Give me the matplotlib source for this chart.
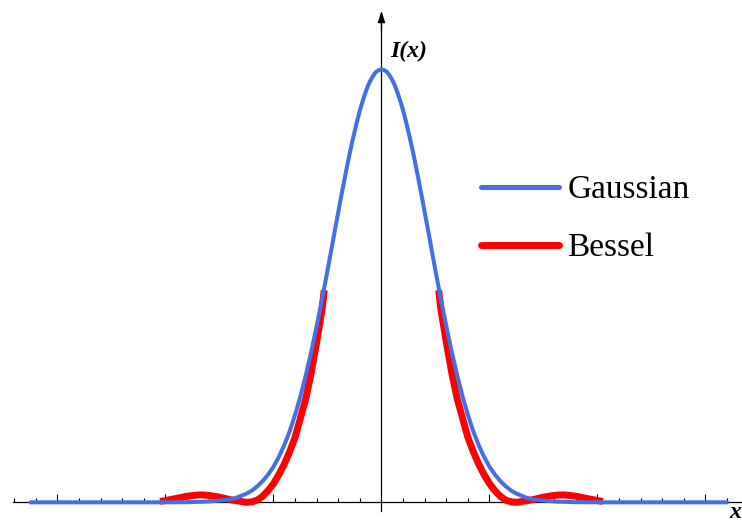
import matplotlib
matplotlib.use("Agg")
import matplotlib.pyplot as plt
from matplotlib.ticker import FixedLocator, NullFormatter
from matplotlib.lines import Line2D

# Gaussian intensity profile
gauss_x = [-3.25, -2.5, -2.0, -1.8, -1.7, -1.6, -1.5, -1.45, -1.4, -1.35, -1.3, -1.25, -1.2,
           -1.15, -1.1, -1.05, -1.0, -0.95, -0.9, -0.85, -0.8, -0.75, -0.7, -0.65, -0.6,
           -0.55, -0.5, -0.45, -0.425, -0.4, -0.375, -0.35, -0.325, -0.3, -0.275, -0.25,
           -0.225, -0.2, -0.175, -0.15, -0.125, -0.1, -0.075, -0.05, -0.025,
           0.0,
           0.025, 0.05, 0.075, 0.1, 0.125, 0.15, 0.175, 0.2, 0.225, 0.25, 0.275, 0.3,
           0.325, 0.35, 0.375, 0.4, 0.425, 0.45, 0.5, 0.55, 0.6, 0.65, 0.7, 0.75, 0.8,
           0.85, 0.9, 0.95, 1.0, 1.05, 1.1, 1.15, 1.2, 1.25, 1.3, 1.35, 1.4, 1.45, 1.5,
           1.6, 1.7, 1.8, 2.0, 2.5, 3.2]
gauss_y = [0.0, 0.0, 0.0, 0.0003, 0.001, 0.002, 0.004, 0.005, 0.007, 0.010, 0.015, 0.020, 0.027,
           0.037, 0.049, 0.064, 0.082, 0.105, 0.132, 0.164, 0.202, 0.245, 0.294, 0.348, 0.407,
           0.469, 0.535, 0.603, 0.637, 0.670, 0.704, 0.736, 0.768, 0.799, 0.828, 0.855,
           0.881, 0.905, 0.926, 0.945, 0.962, 0.975, 0.986, 0.994, 0.998,
           1.0,
           0.998, 0.994, 0.986, 0.975, 0.962, 0.945, 0.926, 0.905, 0.881, 0.855, 0.828, 0.799,
           0.768, 0.736, 0.704, 0.670, 0.637, 0.603, 0.535, 0.469, 0.407, 0.348, 0.294, 0.245, 0.202,
           0.164, 0.132, 0.105, 0.082, 0.064, 0.049, 0.037, 0.027, 0.020, 0.015, 0.010, 0.007, 0.005, 0.004,
           0.002, 0.001, 0.0003, 0.0, 0.0, 0.0]

# Bessel (Airy-like) profile, drawn only on the wings
bessel_left_x = [-2.05, -2.0, -1.9, -1.8, -1.7, -1.65, -1.6, -1.5, -1.4, -1.3, -1.25, -1.2,
                 -1.15, -1.1, -1.05, -1.0, -0.95, -0.9, -0.85, -0.8, -0.75, -0.7, -0.65,
                 -0.6, -0.55, -0.53]
bessel_left_y = [0.002, 0.004, 0.009, 0.014, 0.017, 0.017, 0.016, 0.012, 0.006, 0.002, 0.0, 0.001,
                 0.005, 0.014, 0.027, 0.043, 0.064, 0.088, 0.117, 0.150, 0.195, 0.240, 0.300,
                 0.370, 0.445, 0.490]
bessel_right_x = [0.53, 0.55, 0.6, 0.65, 0.7, 0.75, 0.8, 0.85, 0.9, 0.95, 1.0, 1.05, 1.1,
                  1.15, 1.2, 1.25, 1.3, 1.4, 1.5, 1.6, 1.65, 1.7, 1.8, 1.9, 2.0, 2.05]
bessel_right_y = [0.490, 0.445, 0.370, 0.300, 0.240, 0.195, 0.150, 0.117, 0.088, 0.064, 0.043, 0.027, 0.014,
                  0.005, 0.001, 0.0, 0.002, 0.006, 0.012, 0.016, 0.017, 0.017, 0.014, 0.009, 0.004, 0.002]

series_labels = ["Gaussian", "Bessel"]
major_ticks = [-3, -2, -1, 1, 2, 3]
minor_ticks = [-3.4, -3.2, -2.8, -2.6, -2.4, -2.2, -1.8, -1.6, -1.4, -1.2, -0.8, -0.6, -0.4, -0.2,
               0.2, 0.4, 0.6, 0.8, 1.2, 1.4, 1.6, 1.8, 2.2, 2.4, 2.6, 2.8, 3.2]

BLUE = "#4470E6"
RED = "#FF0000"

fig = plt.figure(figsize=(7.42, 5.25), dpi=100)
ax = fig.add_axes([0, 0, 1, 1])
ax.set_xlim(-3.532, 3.338)
ax.set_ylim(-0.0524, 1.160)

# axes through origin
for s in ("top", "right"):
    ax.spines[s].set_visible(False)
ax.spines["left"].set_position(("data", 0))
ax.spines["bottom"].set_position(("data", 0))
ax.spines["left"].set_bounds(-0.02, 1.12)
ax.spines["bottom"].set_bounds(-3.41, 3.338)
for s in ("left", "bottom"):
    ax.spines[s].set_linewidth(0.9)
    ax.spines[s].set_color("black")
    ax.spines[s].set_zorder(1)

ax.xaxis.set_major_locator(FixedLocator(major_ticks))
ax.xaxis.set_minor_locator(FixedLocator(minor_ticks))
ax.xaxis.set_major_formatter(NullFormatter())
ax.tick_params(axis="x", which="major", direction="in", length=5.5, width=0.8)
ax.tick_params(axis="x", which="minor", direction="in", length=2.8, width=0.8)
ax.yaxis.set_visible(False)

# arrow on vertical axis
ax.annotate("", xy=(0, 1.135), xytext=(0, 1.09),
            arrowprops=dict(arrowstyle="-|>,head_length=0.7,head_width=0.22",
                            color="black", lw=0.9, shrinkA=0, shrinkB=0))

# curves
ax.plot(bessel_left_x, bessel_left_y, color=RED, lw=5.0, solid_capstyle="butt", zorder=3)
ax.plot(bessel_right_x, bessel_right_y, color=RED, lw=5.0, solid_capstyle="butt", zorder=3)
ax.plot(gauss_x, gauss_y, color=BLUE, lw=2.9, solid_capstyle="round",
        solid_joinstyle="round", zorder=4)

# legend
handles = [Line2D([], [], color=BLUE, lw=3.6, solid_capstyle="round"),
           Line2D([], [], color=RED, lw=5.0, solid_capstyle="round")]
leg = ax.legend(handles, series_labels, loc="upper left",
                bbox_to_anchor=(481 / 742, 1 - 175 / 525), bbox_transform=fig.transFigure,
                frameon=False, borderpad=0, borderaxespad=0, handlelength=2.34,
                handletextpad=0.25, labelspacing=0.82,
                prop={"family": "Liberation Serif", "size": 24})

# axis labels
ax.text(390 / 742, 1 - 51 / 525, "I(x)", transform=fig.transFigure,
        family="Liberation Serif", style="italic", weight="bold", size=17,
        ha="left", va="center")
ax.text(741 / 742, 1 - 513 / 525, "x", transform=fig.transFigure,
        family="Liberation Serif", style="italic", weight="bold", size=17,
        ha="right", va="center")

fig.savefig("out.png", dpi=100)
